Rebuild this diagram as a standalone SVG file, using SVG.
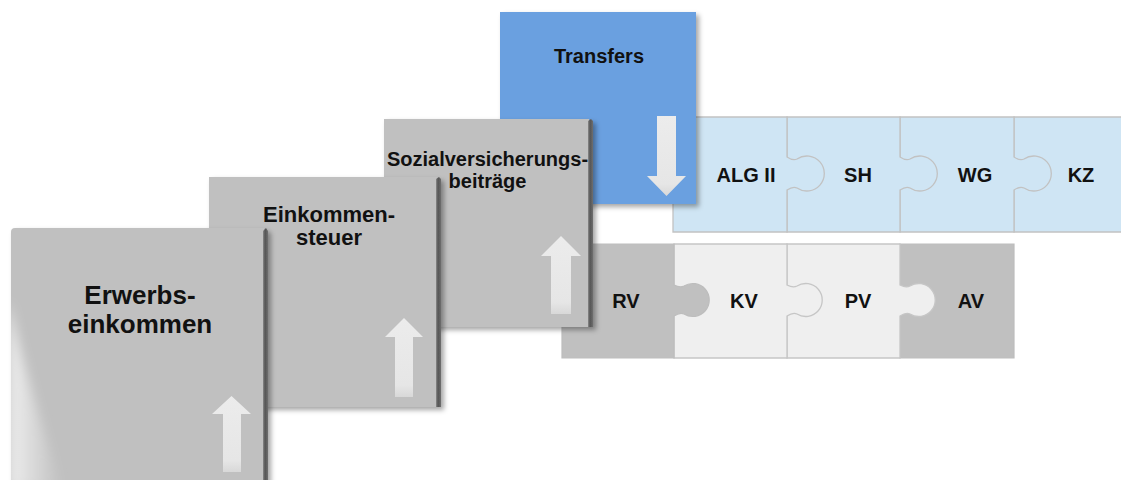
<svg xmlns="http://www.w3.org/2000/svg" width="1121" height="480" viewBox="0 0 1121 480">
<defs>
<style>
.t{font-family:"Liberation Sans",Arial,sans-serif;font-weight:bold;fill:#111;text-anchor:middle}
.pb{fill:#cfe5f4;stroke:#c2c2c2;stroke-width:1.3}
.pg{fill:#c0c0c0;stroke:#bdbdbd;stroke-width:1.2}
.pl{fill:#efefef;stroke:#c6c6c6;stroke-width:1.3}
.card{fill:#c0c0c0}
.arr{fill:url(#arrG)}
</style>
<linearGradient id="edge" x1="0" y1="0" x2="1" y2="0">
<stop offset="0" stop-color="#8a8a8a"/><stop offset="0.4" stop-color="#555"/><stop offset="1" stop-color="#6e6e6e"/>
</linearGradient>
<linearGradient id="arrG" x1="0" y1="0" x2="0" y2="1">
<stop offset="0" stop-color="#ececec"/><stop offset="0.85" stop-color="#e6e6e6"/><stop offset="1" stop-color="#d8d8d8"/>
</linearGradient>
<linearGradient id="gloss" x1="0" y1="0" x2="1" y2="0">
<stop offset="0" stop-color="#ffffff" stop-opacity="0.75"/><stop offset="1" stop-color="#ffffff" stop-opacity="0"/>
</linearGradient>
<filter id="sh" x="-10%" y="-10%" width="125%" height="125%">
<feDropShadow dx="3" dy="3" stdDeviation="2.5" flood-color="#000" flood-opacity="0.35"/>
</filter>
<filter id="blur"><feGaussianBlur stdDeviation="6"/></filter>
<clipPath id="c1"><rect x="11" y="228" width="252" height="260"/></clipPath>
</defs>

<g id="transfers-row">
<path id="kz" class="pb" d="M1014,117 L1125,117 L1125,232 L1014,232 Z"/>
<path id="wg" class="pb" d="M900,117 L1014,117 L1014,157 Q1020,161 1024,159 A17.5 17.5 0 1 1 1024,188 Q1020,186 1014,190 L1014,232 L900,232 Z"/>
<path id="sh" class="pb" d="M787,117 L900,117 L900,157 Q906,161 910,159 A17.5 17.5 0 1 1 910,188 Q906,186 900,190 L900,232 L787,232 Z"/>
<path id="algii" class="pb" d="M673,117 L787,117 L787,157 Q793,161 797,159 A17.5 17.5 0 1 1 797,188 Q793,186 787,190 L787,232 L673,232 Z"/>
<text class="t" x="746" y="182" font-size="20">ALG II</text>
<text class="t" x="858" y="182" font-size="20">SH</text>
<text class="t" x="975" y="182" font-size="20">WG</text>
<text class="t" x="1081" y="182" font-size="20">KZ</text>
</g>

<g id="sv-row">
<path id="av" class="pg" d="M900,244 L1014,244 L1014,358 L900,358 Z"/>
<path id="pv" class="pl" d="M787,244 L900,244 L900,285 Q906,288 910,286 A16.5 16.5 0 1 1 910,314 Q906,312 900,316 L900,358 L787,358 Z"/>
<path id="kv" class="pl" d="M674,244 L787,244 L787,285 Q793,288 797,286 A16.5 16.5 0 1 1 797,314 Q793,312 787,316 L787,358 L674,358 Z"/>
<path id="rv" class="pg" d="M562,244 L674,244 L674,285 Q680,288 684,286 A16.5 16.5 0 1 1 684,314 Q680,312 674,316 L674,358 L562,358 Z"/>
<text class="t" x="626" y="308" font-size="20">RV</text>
<text class="t" x="744" y="308" font-size="20">KV</text>
<text class="t" x="858" y="308" font-size="20">PV</text>
<text class="t" x="971" y="308" font-size="20">AV</text>
</g>

<g id="card-transfers">
<rect x="500" y="12" width="196" height="192" fill="#6aa0e0" filter="url(#sh)"/>
<text class="t" x="599" y="63" font-size="20">Transfers</text>
<path class="arr" d="M657,116 L676,116 L676,176 L686,176 L666.5,196 L647,176 L657,176 Z"/>
</g>

<g id="card-sozial">
<g filter="url(#sh)">
<rect class="card" x="384" y="119" width="205" height="208"/>
<path d="M588,121 L591,119 L593,121 L593,327 L588,327 Z" fill="url(#edge)"/>
</g>
<text class="t" x="487.5" y="166" font-size="20">Sozialversicherungs-</text>
<text class="t" x="487.5" y="188" font-size="20">beiträge</text>
<path class="arr" d="M551,314 L551,256 L541,256 L561,236 L581,256 L571,256 L571,314 Z"/>
</g>

<g id="card-einkommensteuer">
<g filter="url(#sh)">
<rect class="card" x="209" y="177" width="228" height="230"/>
<path d="M436,179 L439,177 L441,179 L441,407 L436,407 Z" fill="url(#edge)"/>
</g>
<text class="t" x="329" y="222" font-size="22">Einkommen-</text>
<text class="t" x="329" y="245" font-size="22">steuer</text>
<path class="arr" d="M395,397 L395,337 L385,337 L404,318 L423,337 L413,337 L413,397 Z"/>
</g>

<g id="card-erwerbseinkommen">
<g filter="url(#sh)">
<path class="card" d="M15,228 L264,228 L264,486 L11,486 L11,232 Q11,228 15,228 Z"/>
<path d="M263,231 L266,228 L268,231 L268,486 L263,486 Z" fill="url(#edge)"/>
</g>
<g clip-path="url(#c1)">
<path d="M8,300 C22,360 40,420 62,490 L8,490 Z" fill="url(#gloss)" filter="url(#blur)"/>
</g>
<text class="t" x="140" y="304" font-size="26">Erwerbs-</text>
<text class="t" x="140" y="333" font-size="26">einkommen</text>
<path class="arr" d="M223,472 L223,414 L212,414 L231.5,396 L251,414 L241,414 L241,472 Z"/>
</g>
</svg>
